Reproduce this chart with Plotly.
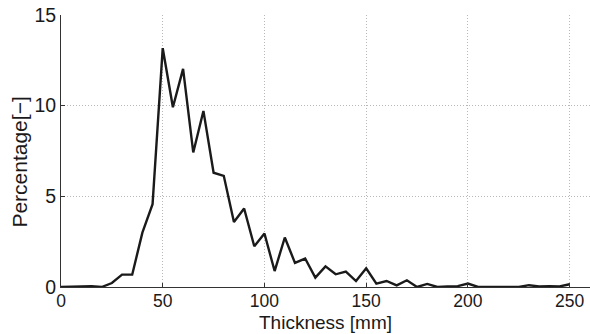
import plotly.graph_objects as go

thickness = list(range(0, 255, 5))
percentage = [0.0, 0.03, 0.06, 0.05, 0.0, 0.22, 0.68, 0.68, 3.0, 4.57,
              13.17, 9.91, 12.03, 7.42, 9.71, 6.30, 6.13, 3.59, 4.33, 2.25,
              2.95, 0.88, 2.73, 1.33, 1.57, 0.52, 1.14, 0.70, 0.85, 0.33,
              1.03, 0.19, 0.33, 0.09, 0.37, 0.0, 0.17, 0.0, 0.03, 0.05,
              0.19, 0.0, 0.0, 0.0, 0.0, 0.0, 0.10, 0.03, 0.05, 0.03, 0.15]
x_ticks = [0, 50, 100, 150, 200, 250]
y_ticks = [0, 5, 10, 15]

font_family = "Liberation Sans, Arial, sans-serif"

fig = go.Figure()
fig.add_trace(go.Scatter(x=thickness, y=percentage, mode="lines",
                         line=dict(color="#1a1a1a", width=2.4), showlegend=False,
                         cliponaxis=False))

fig.update_layout(
    width=590, height=334,
    margin=dict(l=61, r=0, t=15, b=47),
    paper_bgcolor="white", plot_bgcolor="white",
    font=dict(family=font_family, size=19, color="#1a1a1a"),
    annotations=[
        dict(text="Thickness [mm]", xref="paper", yref="paper",
             x=0.5, y=-0.1728, xanchor="center", yanchor="bottom",
             showarrow=False, borderpad=0, font=dict(size=19, color="#1a1a1a")),
        dict(text="Percentage[\u2212]", xref="paper", yref="paper",
             x=-0.078, y=0.46, xanchor="center", yanchor="middle", textangle=-90,
             showarrow=False, font=dict(size=21, color="#1a1a1a")),
    ],
)
fig.update_xaxes(
    range=[0, 260], tickvals=x_ticks, showgrid=True,
    gridcolor="#b8b8b8", griddash="1px,2px", gridwidth=1,
    showline=True, linecolor="#333333", linewidth=1,
    ticks="inside", ticklen=4, tickcolor="#333333",
    zeroline=False, tickfont=dict(size=17.5), ticklabelstandoff=-2,
)
fig.update_yaxes(
    range=[0, 15], tickvals=y_ticks, showgrid=True,
    gridcolor="#b8b8b8", griddash="1px,2px", gridwidth=1,
    showline=True, linecolor="#333333", linewidth=1,
    ticks="inside", ticklen=4, tickcolor="#333333",
    zeroline=False, tickfont=dict(size=19.5),
)

fig.write_html("out.html")
